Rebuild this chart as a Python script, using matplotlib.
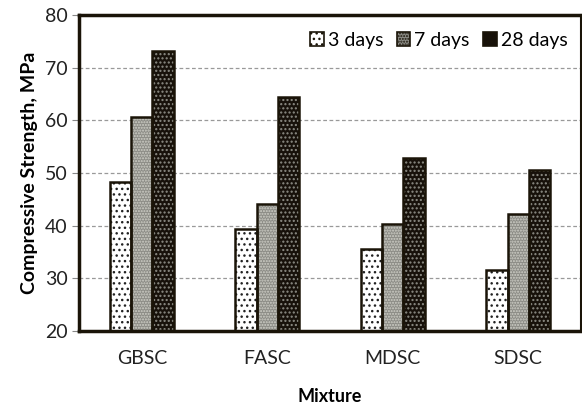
import numpy as np
import matplotlib.pyplot as plt

plt.rcParams['font.family'] = ['Lato', 'DejaVu Sans']
plt.rcParams['hatch.linewidth'] = 1.0

# data
mixtures = ['GBSC', 'FASC', 'MDSC', 'SDSC']
days_3 = [48.2, 39.4, 35.6, 31.6]
days_7 = [60.7, 44.2, 40.3, 42.2]
days_28 = [73.1, 64.4, 52.9, 50.5]
series_labels = ['3 days', '7 days', '28 days']

fig = plt.figure(figsize=(5.82, 4.12), dpi=100)
ax = fig.add_axes([79 / 582, 1 - 331 / 412, 502 / 582, 316 / 412])

x = np.arange(len(mixtures))
w = 0.17
styles = [
    ('white', '#222222', '...'),        # 3 days: white, black dots
    ('#8c8c86', '#d0d0c8', '......'),   # 7 days: grey, fine dots
    ('#17110a', '#8e8e86', '....'),     # 28 days: dark, light dots
]
handles = []
for i, (vals, (fc, hc, hatch)) in enumerate(zip([days_3, days_7, days_28], styles)):
    pos = x + (i - 1) * w
    ax.bar(pos, vals, w, color=fc, edgecolor=hc, hatch=hatch,
           linewidth=0, zorder=2)
    ax.bar(pos, vals, w, fill=False, edgecolor='#1a1408', linewidth=1.8,
           zorder=3)
    handles.append(ax.bar([0], [0], 0, color=fc, edgecolor='#1a1408',
                          hatch=hatch, linewidth=1.2))

ax.set_ylim(20, 80)
ax.set_xlim(-0.5, 3.5)
ax.set_yticks(range(20, 81, 10))
ax.set_xticks(x)
ax.set_xticklabels(mixtures)
ax.tick_params(axis='both', labelsize=14, colors='#222222')
ax.tick_params(axis='x', length=0, pad=14)
ax.tick_params(axis='y', length=5, width=0.8, color='#888888', pad=3)
ax.yaxis.grid(True, linestyle=(0, (3, 2)), color='#999999', linewidth=0.9,
              zorder=0)
ax.set_axisbelow(True)

for side in ['left', 'top', 'bottom']:
    ax.spines[side].set_linewidth(2.5)
    ax.spines[side].set_color('#1a1408')
ax.spines['right'].set_linewidth(1.5)
ax.spines['right'].set_color('#1a1408')

ax.set_ylabel('Compressive Strength, MPa', fontsize=14, fontweight='bold',
              labelpad=5)
ax.set_xlabel('Mixture', fontsize=13, fontweight='bold', labelpad=15)

leg = ax.legend(handles, series_labels, loc='upper right', frameon=False,
                fontsize=14, ncol=3, handlelength=0.7, handleheight=0.7,
                handletextpad=0.2, columnspacing=0.7,
                bbox_to_anchor=(1.0, 0.99), borderaxespad=0.3)

fig.savefig('out.png', dpi=100)
